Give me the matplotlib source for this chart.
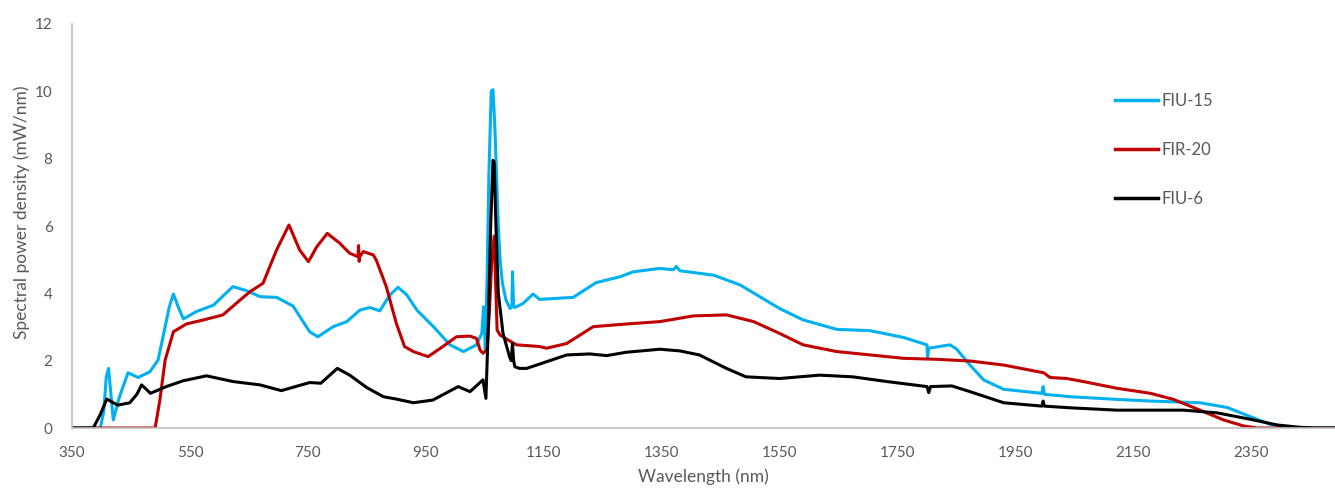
import numpy as np
import matplotlib.pyplot as plt

plt.rcParams['font.family'] = ['Lato', 'DejaVu Sans']

# FIU-15 (blue)
fiu15_nm = [350, 398, 404, 408, 412, 416, 420, 430, 445, 462, 482, 496, 508, 515, 522, 530,
            539, 561, 590, 623, 646, 669, 697, 725, 753, 767, 793, 816, 838, 855, 872, 889,
            903, 918, 935, 963, 991, 1014, 1036, 1045, 1048, 1051, 1054, 1057, 1061, 1064,
            1067, 1070, 1073, 1076, 1080, 1086, 1093, 1096, 1097, 1099, 1101, 1115, 1132,
            1143, 1200, 1239, 1279, 1302, 1347, 1370, 1375, 1381, 1438, 1483, 1550, 1590,
            1647, 1704, 1760, 1800, 1801, 1803, 1839, 1850, 1873, 1896, 1930, 1995, 1997,
            1999, 2043, 2122, 2179, 2263, 2309, 2348, 2382, 2416, 2440, 2490]
fiu15_val = [0, 0, 0.5, 1.5, 1.77, 1.0, 0.24, 0.9, 1.64, 1.5, 1.67, 2.02, 3.01, 3.6, 3.98, 3.6,
             3.24, 3.46, 3.65, 4.2, 4.08, 3.9, 3.88, 3.62, 2.86, 2.71, 3.01, 3.16, 3.5, 3.58, 3.48, 3.95,
             4.18, 3.95, 3.5, 3.01, 2.47, 2.27, 2.47, 2.81, 3.6, 2.3, 4.5, 7.5, 10.0, 10.05,
             9.0, 7.5, 6.0, 5.0, 4.3, 3.8, 3.55, 3.6, 4.64, 3.6, 3.58, 3.7, 3.98,
             3.82, 3.88, 4.32, 4.49, 4.64, 4.74, 4.7, 4.8, 4.67, 4.54, 4.25, 3.55, 3.21,
             2.93, 2.89, 2.69, 2.47, 2.1, 2.37, 2.47, 2.35, 1.87, 1.43, 1.15, 1.03, 1.23,
             1.0, 0.93, 0.85, 0.80, 0.75, 0.61, 0.34, 0.11, 0.02, 0, 0]

# FIR-20 (red)
fir20_nm = [350, 491, 499, 508, 522, 544, 573, 606, 635, 652, 674, 697, 718, 736, 751, 765,
            783, 804, 821, 835, 836, 837, 838, 844, 861, 866, 883, 900, 914, 929, 954, 979,
            1002, 1025, 1036, 1042, 1047, 1054, 1058, 1062, 1066, 1069, 1071, 1076, 1090,
            1104, 1143, 1155, 1189, 1234, 1291, 1347, 1404, 1460, 1506, 1550, 1590, 1647,
            1704, 1760, 1817, 1873, 1930, 1998, 2009, 2037, 2065, 2122, 2179, 2218, 2263,
            2303, 2337, 2360, 2490]
fir20_val = [0, 0, 0.83, 2.02, 2.86, 3.09, 3.21, 3.36, 3.80, 4.05, 4.30, 5.29, 6.03, 5.29, 4.94, 5.38,
             5.78, 5.49, 5.19, 5.09, 5.42, 4.95, 5.09, 5.24, 5.14, 4.99, 4.20, 3.11, 2.42, 2.27, 2.12, 2.42,
             2.71, 2.73, 2.66, 2.32, 2.22, 2.32, 3.5, 5.0, 5.7, 4.0, 2.91, 2.76, 2.61,
             2.47, 2.42, 2.37, 2.51, 3.01, 3.09, 3.16, 3.33, 3.36, 3.16, 2.81, 2.47, 2.27,
             2.17, 2.07, 2.04, 1.99, 1.87, 1.64, 1.50, 1.47, 1.38, 1.18, 1.03, 0.85, 0.53,
             0.24, 0.06, 0, 0]

# FIU-6 (black)
fiu6_nm = [350, 386, 398, 409, 420, 428, 448, 460, 468, 476, 483, 510, 538, 578, 623, 669,
           705, 753, 772, 800, 821, 850, 878, 900, 929, 962, 1005, 1025, 1047, 1052, 1056,
           1060, 1064, 1066, 1069, 1073, 1081, 1092, 1095, 1097, 1099, 1101, 1109, 1121,
           1155, 1189, 1228, 1257, 1290, 1347, 1381, 1414, 1460, 1493, 1550, 1618, 1674,
           1732, 1800, 1803, 1806, 1842, 1873, 1930, 1995, 1997, 1999, 2043, 2122, 2235,
           2292, 2348, 2394, 2433, 2460, 2490]
fiu6_val = [0, 0, 0.4, 0.86, 0.75, 0.68, 0.75, 1.0, 1.28, 1.15, 1.03, 1.23, 1.40, 1.55, 1.38, 1.28,
            1.11, 1.35, 1.33, 1.77, 1.57, 1.2, 0.93, 0.86, 0.75, 0.83, 1.23, 1.08, 1.43, 0.88, 3.0,
            6.0, 7.95, 7.9, 6.0, 4.0, 2.81, 2.12, 2.0, 2.51, 2.0, 1.82, 1.77, 1.77,
            1.97, 2.17, 2.20, 2.15, 2.25, 2.34, 2.29, 2.17, 1.77, 1.52, 1.47, 1.57, 1.52,
            1.38, 1.23, 1.05, 1.23, 1.25, 1.08, 0.75, 0.65, 0.8, 0.65, 0.60, 0.53, 0.53,
            0.45, 0.26, 0.09, 0.02, 0, 0]

x_ticks = [350, 550, 750, 950, 1150, 1350, 1550, 1750, 1950, 2150, 2350]
y_ticks = [0, 2, 4, 6, 8, 10, 12]

text_col = '#595959'
grid_col = '#bfbfbf'

fig = plt.figure(figsize=(13.35, 4.93), dpi=100)
ax = fig.add_axes([72 / 1335, 65 / 493, 1263 / 1335, 404 / 493])

ax.plot(fiu15_nm, fiu15_val, color='#00b0f0', lw=2.2, label='FIU-15', solid_joinstyle='round')
ax.plot(fir20_nm, fir20_val, color='#c00000', lw=2.2, label='FIR-20', solid_joinstyle='round')
ax.plot(fiu6_nm, fiu6_val, color='black', lw=2.2, label='FIU-6', solid_joinstyle='round')

ax.set_xlim(350, 2492)
ax.set_ylim(0, 12)
ax.set_xticks(x_ticks)
ax.set_yticks(y_ticks)
ax.tick_params(length=0, labelsize=11, colors=text_col)
ax.tick_params(axis='x', pad=13)
ax.tick_params(axis='y', pad=14)

for s in ['top', 'right']:
    ax.spines[s].set_visible(False)
for s in ['left', 'bottom']:
    ax.spines[s].set_color(grid_col)
    ax.spines[s].set_linewidth(1.2)

ax.set_xlabel('Wavelength (nm)', fontsize=12.5, color=text_col, labelpad=6)
ax.set_ylabel('Spectral power density (mW/nm)', fontsize=12.5, color=text_col)
ax.yaxis.set_label_coords(-0.033, 0.535)

leg = ax.legend(loc='center left', bbox_to_anchor=(1115 / 1335, 1 - 150 / 493),
                bbox_transform=fig.transFigure, frameon=False, fontsize=12,
                handlelength=2.6, handletextpad=0.2, labelspacing=2.0, borderpad=0,
                borderaxespad=0)
for t in leg.get_texts():
    t.set_color(text_col)
for h in leg.get_lines():
    h.set_linewidth(2.5)

fig.savefig('out.png', dpi=100)
